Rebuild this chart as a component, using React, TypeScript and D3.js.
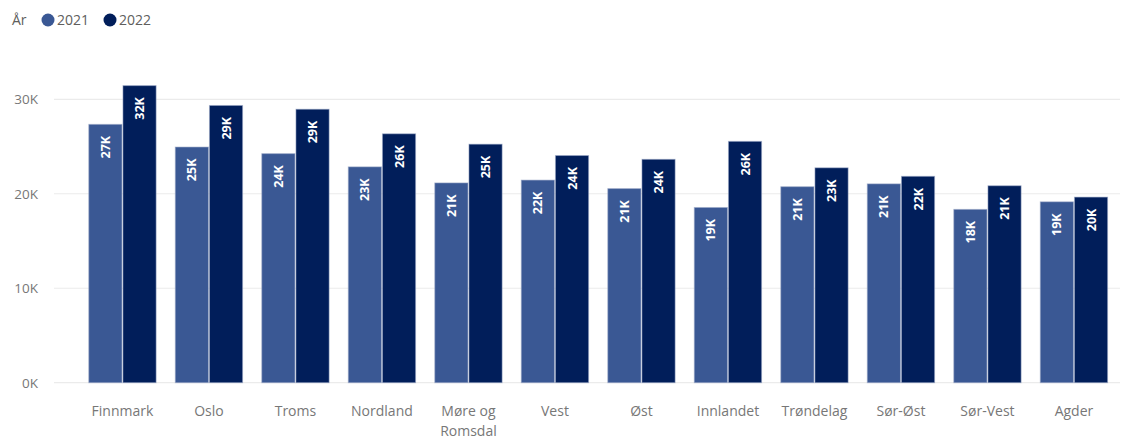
import React from 'react';
import * as d3 from 'd3';

const REGIONS = [
  'Finnmark', 'Oslo', 'Troms', 'Nordland', 'Møre og Romsdal', 'Vest',
  'Øst', 'Innlandet', 'Trøndelag', 'Sør-Øst', 'Sør-Vest', 'Agder',
];
const YEARS = ['2021', '2022'];
const VALUES_2021 = [27400, 25000, 24300, 22900, 21200, 21500, 20600, 18600, 20800, 21100, 18400, 19200];
const VALUES_2022 = [31500, 29400, 29000, 26400, 25300, 24100, 23700, 25600, 22800, 21900, 20900, 19700];
const Y_TICKS = [0, 10000, 20000, 30000];

const COLORS = ['#3a5894', '#011e5a'];
const FONT = '"Open Sans", "Noto Sans", sans-serif';

const W = 1122;
const H = 441;
const zeroY = 382.7;
const topY = 99.3; // 30K gridline

const App = () => {
  const x = d3.scaleBand<string>()
    .domain(REGIONS)
    .range([79.2, 1117.2])
    .paddingInner(0.21)
    .paddingOuter(0.105);
  const xIn = d3.scaleBand<string>().domain(YEARS).range([0, x.bandwidth()]);
  const y = d3.scaleLinear().domain([0, 30000]).range([zeroY, topY]);

  const series = [VALUES_2021, VALUES_2022];
  const fmt = (v: number) => `${Math.round(v / 1000)}K`;

  return (
    <svg width={W} height={H} style={{ position: 'absolute', left: 0, top: 0, background: '#fff' }}>
      {/* legend */}
      <g fontFamily={FONT} fontSize={14} fill="#605e5c">
        <text x={12} y={25}>År</text>
        {YEARS.map((yr, i) => (
          <g key={yr} transform={`translate(${48 + i * 62},20)`}>
            <circle r={6.5} fill={COLORS[i]} />
            <text x={9} y={5} fill="#605e5c">{yr}</text>
          </g>
        ))}
      </g>

      {/* gridlines + y labels */}
      {Y_TICKS.map(t => (
        <g key={t}>
          <line x1={54} x2={1120} y1={y(t)} y2={y(t)} stroke="#ebebeb" strokeWidth={1.2} />
          <text x={38} y={y(t) + 5} textAnchor="end" fontFamily={FONT} fontSize={13.5} fill="#777">
            {fmt(t)}
          </text>
        </g>
      ))}

      {/* bars */}
      {REGIONS.map((r, ri) => (
        <g key={r} transform={`translate(${x(r)},0)`}>
          {YEARS.map((yr, si) => {
            const v = series[si][ri];
            const bx = xIn(yr)!;
            const bw = xIn.bandwidth();
            const top = y(v);
            return (
              <g key={yr}>
                <rect
                  x={bx + 0.5}
                  y={top + 0.5}
                  width={bw - 1}
                  height={zeroY - top - 0.5}
                  fill={COLORS[si]}
                  stroke="#9aa8c6"
                  strokeOpacity={0.55}
                  strokeWidth={1}
                />
                <text
                  transform={`translate(${bx + bw / 2 + 4.5},${top + 12}) rotate(-90)`}
                  textAnchor="end"
                  fontFamily={FONT}
                  fontWeight={700}
                  fontSize={12.5}
                  fill="#fff"
                >
                  {fmt(v)}
                </text>
              </g>
            );
          })}
        </g>
      ))}

      {/* x labels */}
      {REGIONS.map(r => {
        const cx = x(r)! + x.bandwidth() / 2;
        const lines = r === 'Møre og Romsdal' ? ['Møre og', 'Romsdal'] : [r];
        return (
          <text key={r} x={cx} y={416} textAnchor="middle" fontFamily={FONT} fontSize={14} fill="#777">
            {lines.map((l, i) => (
              <tspan key={l} x={cx} dy={i === 0 ? 0 : 20}>{l}</tspan>
            ))}
          </text>
        );
      })}
    </svg>
  );
};

export default App;
